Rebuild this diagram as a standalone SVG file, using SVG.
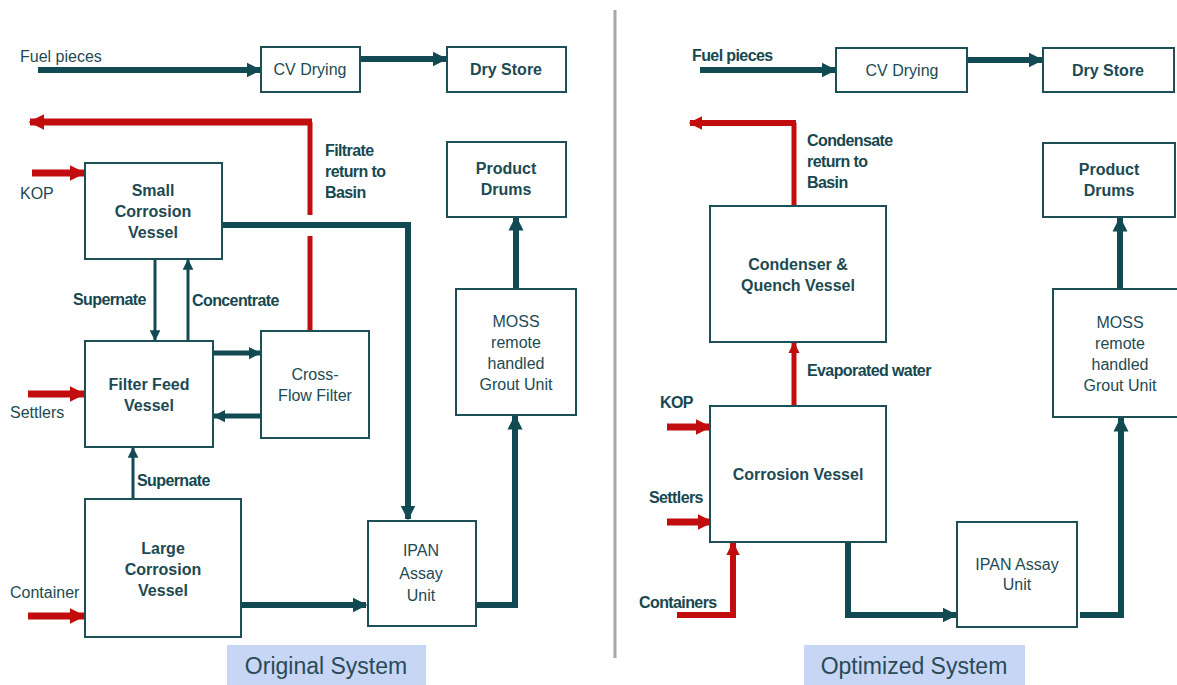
<svg xmlns="http://www.w3.org/2000/svg" width="1177" height="685" viewBox="0 0 1177 685">
<style>
.box{fill:#fff;stroke:#1d4f57;stroke-width:2}
.t{font-family:"Liberation Sans",Arial,sans-serif;font-size:16px;fill:#1d4a52;text-anchor:middle}
.b{font-weight:bold}
.l{font-family:"Liberation Sans",Arial,sans-serif;font-size:16px;fill:#1d4a52}
.lb{font-family:"Liberation Sans",Arial,sans-serif;font-size:16px;font-weight:bold;fill:#164850;letter-spacing:-0.6px}
.d{fill:none;stroke:#124a53;stroke-linejoin:miter}
.r{fill:none;stroke:#c10d0d}
.cap{font-family:"Liberation Sans",Arial,sans-serif;font-size:23px;fill:#2a4a56;text-anchor:middle}
</style>
<defs>
<marker id="ad" viewBox="0 0 10 10" refX="9" refY="5" markerWidth="2.5" markerHeight="3" orient="auto" markerUnits="strokeWidth"><path d="M0,0 L10,5 L0,10 z" fill="#124a53"/></marker>
<marker id="at" viewBox="0 0 10 10" refX="9" refY="5" markerWidth="3.6" markerHeight="3.6" orient="auto" markerUnits="strokeWidth"><path d="M0,0 L10,5 L0,10 z" fill="#124a53"/></marker>
<marker id="ar" viewBox="0 0 10 10" refX="9" refY="5" markerWidth="2.3" markerHeight="2.6" orient="auto" markerUnits="strokeWidth"><path d="M0,0 L10,5 L0,10 z" fill="#c10d0d"/></marker>
</defs>

<rect width="1177" height="685" fill="#fff"/>
<line x1="615" y1="10" x2="615" y2="658" stroke="#a8a8a8" stroke-width="3"/>

<g id="connectors">
<!-- left -->
<line class="d" x1="38" y1="70" x2="260" y2="70" stroke-width="6" marker-end="url(#ad)"/>
<line class="d" x1="360" y1="59" x2="446" y2="59" stroke-width="6" marker-end="url(#ad)"/>
<line class="r" x1="310" y1="330" x2="310" y2="236" stroke-width="5"/>
<line class="r" x1="310" y1="215" x2="310" y2="122" stroke-width="5"/>
<line class="r" x1="312" y1="122" x2="30" y2="122" stroke-width="7" marker-end="url(#ar)"/>
<line class="r" x1="32" y1="173" x2="84" y2="173" stroke-width="7" marker-end="url(#ar)"/>
<polyline class="d" points="222,225 408,225 408,519" stroke-width="6" marker-end="url(#ad)"/>
<line class="d" x1="155" y1="259" x2="155" y2="340" stroke-width="3" marker-end="url(#at)"/>
<line class="d" x1="188" y1="341" x2="188" y2="260" stroke-width="3" marker-end="url(#at)"/>
<line class="d" x1="213" y1="353" x2="260" y2="353" stroke-width="5" marker-end="url(#ad)"/>
<line class="d" x1="261" y1="416" x2="214" y2="416" stroke-width="5" marker-end="url(#ad)"/>
<line class="r" x1="28" y1="394" x2="84" y2="394" stroke-width="7" marker-end="url(#ar)"/>
<line class="d" x1="133" y1="499" x2="133" y2="448" stroke-width="3" marker-end="url(#at)"/>
<line class="r" x1="28" y1="616" x2="84" y2="616" stroke-width="7" marker-end="url(#ar)"/>
<line class="d" x1="241" y1="605" x2="366" y2="605" stroke-width="6" marker-end="url(#ad)"/>
<polyline class="d" points="476,605 515,605 515,416" stroke-width="6" marker-end="url(#ad)"/>
<line class="d" x1="516" y1="289" x2="516" y2="217" stroke-width="6" marker-end="url(#ad)"/>
<!-- right -->
<line class="d" x1="700" y1="70" x2="835" y2="70" stroke-width="6" marker-end="url(#ad)"/>
<line class="d" x1="967" y1="60" x2="1042" y2="60" stroke-width="6" marker-end="url(#ad)"/>
<line class="r" x1="794" y1="205" x2="794" y2="123" stroke-width="5"/>
<line class="r" x1="796" y1="123" x2="690" y2="123" stroke-width="6" marker-end="url(#ar)"/>
<line class="r" x1="794" y1="406" x2="794" y2="343" stroke-width="5" marker-end="url(#ar)"/>
<line class="r" x1="667" y1="427" x2="710" y2="427" stroke-width="7" marker-end="url(#ar)"/>
<line class="r" x1="667" y1="522" x2="712" y2="522" stroke-width="7" marker-end="url(#ar)"/>
<polyline class="r" points="677,615 733,615 733,543" stroke-width="6" marker-end="url(#ar)"/>
<polyline class="d" points="848,542 848,615 956,615" stroke-width="6" marker-end="url(#ad)"/>
<polyline class="d" points="1080,615 1121,615 1121,418" stroke-width="6" marker-end="url(#ad)"/>
<line class="d" x1="1120" y1="289" x2="1120" y2="218" stroke-width="6" marker-end="url(#ad)"/>
</g>

<!-- left nodes -->
<text class="l" x="20" y="62" font-size="15">Fuel pieces</text>
<g id="cvdry1"><rect class="box" x="261" y="47" width="99" height="45"/><text class="t" x="310" y="75">CV Drying</text></g>
<g id="drystore1"><rect class="box" x="447" y="47" width="119" height="45"/><text class="t b" x="506" y="75">Dry Store</text></g>
<text class="lb" x="325" y="156">Filtrate</text>
<text class="lb" x="325" y="177">return to</text>
<text class="lb" x="325" y="198">Basin</text>
<text class="l" x="20" y="199">KOP</text>
<g id="smallcv"><rect class="box" x="85" y="163" width="137" height="96"/>
<text class="t b" x="153" y="196">Small</text><text class="t b" x="153" y="217">Corrosion</text><text class="t b" x="153" y="238">Vessel</text></g>
<text class="lb" x="73" y="305" font-size="15">Supernate</text>
<text class="lb" x="192" y="306">Concentrate</text>
<g id="filterfeed"><rect class="box" x="85" y="341" width="128" height="106"/>
<text class="t b" x="149" y="390">Filter Feed</text><text class="t b" x="149" y="411">Vessel</text></g>
<g id="crossflow"><rect class="box" x="261" y="331" width="108" height="107"/>
<text class="t" x="315" y="380">Cross-</text><text class="t" x="315" y="401">Flow Filter</text></g>
<text class="l" x="10" y="418">Settlers</text>
<text class="lb" x="137" y="486" font-size="15">Supernate</text>
<g id="largecv"><rect class="box" x="85" y="499" width="156" height="138"/>
<text class="t b" x="163" y="554">Large</text><text class="t b" x="163" y="575">Corrosion</text><text class="t b" x="163" y="596">Vessel</text></g>
<text class="l" x="10" y="598" font-size="15">Container</text>
<g id="ipan1"><rect class="box" x="368" y="521" width="108" height="105"/>
<text class="t" x="421" y="556">IPAN</text><text class="t" x="421" y="579">Assay</text><text class="t" x="421" y="601">Unit</text></g>
<g id="moss1"><rect class="box" x="456" y="289" width="120" height="126"/>
<text class="t" x="516" y="327">MOSS</text><text class="t" x="516" y="348">remote</text><text class="t" x="516" y="369">handled</text><text class="t" x="516" y="390">Grout Unit</text></g>
<g id="drums1"><rect class="box" x="447" y="142" width="119" height="75"/>
<text class="t b" x="506" y="174">Product</text><text class="t b" x="506" y="195">Drums</text></g>
<g id="cap1"><rect x="227" y="645" width="199" height="40" fill="#c6d6f4"/><text class="cap" x="326" y="674">Original System</text></g>

<!-- right nodes -->
<text class="lb" x="692" y="61" font-size="15">Fuel pieces</text>
<g id="cvdry2"><rect class="box" x="836" y="48" width="131" height="44"/><text class="t" x="902" y="76">CV Drying</text></g>
<g id="drystore2"><rect class="box" x="1043" y="48" width="131" height="44"/><text class="t b" x="1108" y="76">Dry Store</text></g>
<text class="lb" x="807" y="146">Condensate</text>
<text class="lb" x="807" y="167">return to</text>
<text class="lb" x="807" y="188">Basin</text>
<g id="condenser"><rect class="box" x="710" y="206" width="176" height="136"/>
<text class="t b" x="798" y="270">Condenser &amp;</text><text class="t b" x="798" y="291">Quench Vessel</text></g>
<text class="lb" x="807" y="376">Evaporated water</text>
<text class="lb" x="660" y="408">KOP</text>
<g id="corrosion"><rect class="box" x="710" y="406" width="176" height="136"/>
<text class="t b" x="798" y="480">Corrosion Vessel</text></g>
<text class="lb" x="649" y="503">Settlers</text>
<text class="lb" x="639" y="608">Containers</text>
<g id="ipan2"><rect class="box" x="957" y="522" width="120" height="105"/>
<text class="t" x="1017" y="570">IPAN Assay</text><text class="t" x="1017" y="590">Unit</text></g>
<g id="moss2"><rect class="box" x="1053" y="289" width="130" height="128"/>
<text class="t" x="1120" y="328">MOSS</text><text class="t" x="1120" y="349">remote</text><text class="t" x="1120" y="370">handled</text><text class="t" x="1120" y="391">Grout Unit</text></g>
<g id="drums2"><rect class="box" x="1043" y="143" width="132" height="74"/>
<text class="t b" x="1109" y="175">Product</text><text class="t b" x="1109" y="196">Drums</text></g>
<g id="cap2"><rect x="804" y="645" width="221" height="40" fill="#c6d6f4"/><text class="cap" x="914" y="674">Optimized System</text></g>
</svg>
